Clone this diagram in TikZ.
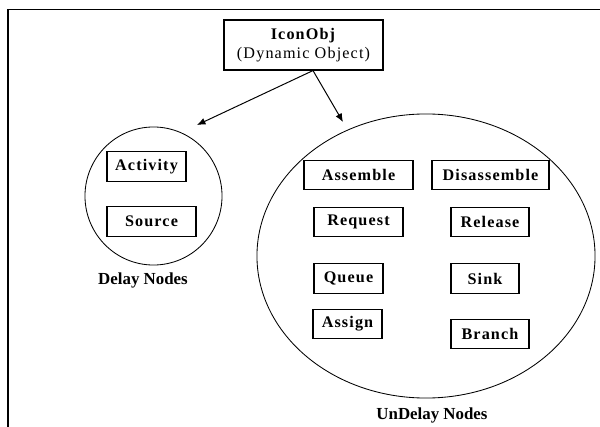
\documentclass[tikz,border=0pt]{standalone}
\usepackage{fontspec}
\setmainfont{Liberation Serif}
\newfontfamily\spaced{Liberation Serif}[LetterSpace=7]
\usetikzlibrary{
    shapes.geometric,
    arrows.meta,
    positioning,
    calc
}

\begin{document}
\begin{tikzpicture}[
        x=0.025cm, y=-0.025cm,
        obj/.style={draw, line width=0.8pt, minimum height=0.74cm, inner sep=0pt, align=center, font=\spaced\fontsize{11.5}{12}\selectfont\bfseries},
        group/.style={draw, ellipse, line width=0.6pt, inner sep=0pt},
        caption/.style={font=\fontsize{12}{13}\selectfont\bfseries},
        arrow/.style={-{Latex[length=6pt,width=5pt]}, line width=0.7pt}
    ]
        \useasboundingbox (0,0) rectangle (600,427);

        % Frame
        \draw[line width=1pt] (8,427) |- (600,9.5);

        % Top object
        \node[draw, line width=0.8pt, minimum width=3.975cm, minimum height=1.25cm, align=center,
              font=\spaced\fontsize{11.5}{13}\selectfont] (icon) at (303.5,45) {
            \textbf{IconObj}\\
            (Dynamic Object)
        };

        % Groups
        \node[group, minimum width=3.425cm, minimum height=3.45cm] (delay) at (153.5,196) {};
        \node[group, minimum width=8.45cm, minimum height=7.1cm] (undelay) at (426,256) {};

        % Delay nodes
        \node[obj, minimum width=1.975cm] (activity) at (146.5,166.5) {Activity};
        \node[obj, minimum width=2.225cm] (source) at (151.5,221.5) {Source};

        % UnDelay nodes
        \node[obj, minimum width=2.725cm] (assemble) at (358.5,175) {Assemble};
        \node[obj, minimum width=2.925cm] (disassemble) at (490.5,175) {Disassemble};
        \node[obj, minimum width=2.225cm] (request) at (358.5,222) {Request};
        \node[obj, minimum width=1.95cm] (release) at (490,222) {Release};
        \node[obj, minimum width=1.725cm] (queue) at (348.5,278.5) {Queue};
        \node[obj, minimum width=1.7cm] (sink) at (485,278.5) {Sink};
        \node[obj, minimum width=1.725cm] (assign) at (347.5,324) {Assign};
        \node[obj, minimum width=1.95cm] (branch) at (490,334) {Branch};

        % Captions
        \node[caption] (delaylbl) at (143,280) {Delay Nodes};
        \node[caption] (undelaylbl) at (432,415) {UnDelay Nodes};

        % Arrows
        \coordinate (fork) at ($(icon.south)+(9.5,0)$);
        \coordinate (delaytip) at (197,125);
        \coordinate (undelaytip) at (343,122);
        \draw[arrow] (fork) -- (delaytip);
        \draw[arrow] (fork) -- (undelaytip);
    \end{tikzpicture}
\end{document}
